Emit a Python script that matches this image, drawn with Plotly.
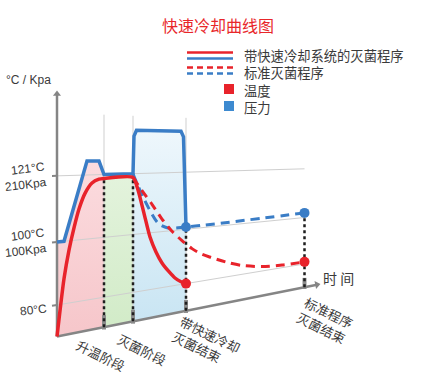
import math
import plotly.graph_objects as go

# ---------------- data (schematic chart units) ----------------
title_text = "快速冷却曲线图"
axis_unit_label = "°C / Kpa"
time_label = "时 间"

y_tick_vals = [80, 100, 121]
y_tick_text = ["80°C", "100°C<br>100Kpa", "121°C<br>210Kpa"]

phase_times = [9.4, 15.2, 25.8, 49.5]
phase_labels = ["升温阶段", "灭菌阶段", "带快速冷却<br>灭菌结束", "标准程序<br>灭菌结束"]

base_value = 70
grid_top = 141
axis_top = 147
axis_end = 52

# temperature, process with fast cooling
temp_fast_t = [0, 0.6, 1.4, 2.4, 3.4, 4.4, 5.6, 7.0, 8.4, 9.4, 15.2, 16.2, 17.4, 18.6, 19.8, 21.0, 22.4, 23.6, 24.8, 25.8]
temp_fast_v = [70, 78, 88, 97, 104, 110, 115, 118.3, 119.5, 119.7, 119.7, 115.3, 107, 98.5, 93, 88.8, 85.3, 82.7, 81, 80]

# pressure, process with fast cooling
pres_fast_t = [0, 1.4, 6.0, 8.4, 9.4, 15.2, 15.4, 15.9, 24.8, 25.3, 25.8]
pres_fast_v = [100, 100, 125.6, 125.5, 121, 121, 134, 136, 136, 134, 100.8]

# temperature, standard process
temp_std_t = [15.2, 17, 19, 21, 23, 25, 27, 29, 31, 34, 37, 41, 45, 49.5]
temp_std_v = [119.7, 115, 110, 104.5, 99.8, 96, 92.6, 90, 88.2, 85.6, 83.5, 81.8, 81.1, 80.9]

# pressure, standard process
pres_std_t = [15.2, 17.2, 20.2, 22.2, 25.8, 49.5]
pres_std_v = [121, 112.8, 103.2, 101.1, 100.8, 102]

legend_labels = ["带快速冷却系统的灭菌程序", "标准灭菌程序", "温度", "压力"]

# ---------------- styling / perspective ----------------
RED = "#e8232b"
BLUE = "#3a7dc6"
GRID = "#cfcfcf"
AXIS = "#858585"
TXT = "#3a3a3a"
FONT = "Arial, Liberation Sans, Noto Sans CJK SC"
CJK = "Noto Sans CJK SC, Noto Sans"

VP_T = 188.0   # vanishing point (time units)
VP_V = 129.5   # vanishing point (value units)


def proj(t, v):
    return v + (VP_V - v) * t / VP_T


def projl(ts, vs):
    return list(ts), [proj(t, v) for t, v in zip(ts, vs)]


W, H = 429, 384
X_RANGE = [-11.4, 74.4]
Y_RANGE = [100 - 142 / 3.15, 100 + 242 / 3.15]

fig = go.Figure()


def add_line(ts, vs, color, width, dash="solid", shape="linear", smoothing=1.0):
    x, y = projl(ts, vs)
    fig.add_trace(go.Scatter(x=x, y=y, mode="lines", hoverinfo="skip",
                             line=dict(color=color, width=width, dash=dash,
                                       shape=shape, smoothing=smoothing),
                             showlegend=False))


def add_fill(ts, vs, c0, c1):
    x, y = projl(ts, vs)
    fig.add_trace(go.Scatter(x=x, y=y, mode="lines", fill="toself", hoverinfo="skip",
                             line=dict(width=0, color="rgba(0,0,0,0)"),
                             fillgradient=dict(type="vertical",
                                               colorscale=[[0, c0], [1, c1]]),
                             showlegend=False))


# --- phase fills ---
i_end = pres_fast_t.index(9.4)
pink_t = pres_fast_t[:i_end + 1] + [9.4, 0]
pink_v = pres_fast_v[:i_end + 1] + [base_value, base_value]
add_fill(pink_t, pink_v, "#f6c6ca", "#fbdcdf")

green_t = [9.4, 15.2, 15.2, 9.4]
green_v = [119.7, 119.7, base_value, base_value]
add_fill(green_t, green_v, "#d2ebc8", "#e3f3dc")

i_s = pres_fast_t.index(15.2)
blue_t = pres_fast_t[i_s:] + [25.8, 15.2]
blue_v = pres_fast_v[i_s:] + [base_value, base_value]
add_fill(blue_t, blue_v, "#c9e5f3", "#eef7fc")

# --- grid lines ---
for v in y_tick_vals:
    add_line([0, phase_times[-1]], [v, v], GRID, 1)
for t in phase_times[:3]:
    add_line([t, t], [base_value, grid_top], GRID, 1)

# --- axes ---
add_line([0, 0], [base_value, axis_top], AXIS, 2.5)
add_line([0, axis_end], [base_value, base_value], AXIS, 2.5)
dy_px = (proj(1, base_value) - base_value) * 3.15
ang = -math.degrees(math.atan2(dy_px, 5))
fig.add_trace(go.Scatter(x=[0], y=[axis_top], mode="markers", hoverinfo="skip",
                         marker=dict(symbol="triangle-up", size=7, color=AXIS),
                         showlegend=False))
fig.add_trace(go.Scatter(x=[axis_end], y=[proj(axis_end, base_value)], mode="markers",
                         hoverinfo="skip",
                         marker=dict(symbol="triangle-right", size=7, color=AXIS, angle=ang),
                         showlegend=False))
# y ticks
for v in y_tick_vals:
    add_line([-1.0, 0], [v, v], AXIS, 2)
# x ticks (thick marks)
for t in phase_times:
    add_line([t, t], [base_value - 0.8, base_value + 4], "#8c8c8c", 4)

# --- black dotted phase boundaries ---
dot_tops = [119.7, 119.7, pres_std_v[-2], pres_std_v[-1]]
for t, top in zip(phase_times, dot_tops):
    add_line([t, t], [base_value, top], "#1e1e1e", 2.5, dash="dot")

# --- standard process (dashed) ---
add_line(pres_std_t, pres_std_v, BLUE, 3, dash="9px,6px", shape="spline", smoothing=0.8)
add_line(temp_std_t, temp_std_v, RED, 3, dash="9px,6px", shape="spline", smoothing=0.8)

# --- fast cooling process (solid) ---
add_line(pres_fast_t, pres_fast_v, BLUE, 3.5)
add_line(temp_fast_t, temp_fast_v, RED, 3.5, shape="spline", smoothing=0.6)

# --- end markers ---
mx, my = projl([temp_fast_t[-1], temp_std_t[-1]], [temp_fast_v[-1], temp_std_v[-1]])
fig.add_trace(go.Scatter(x=mx, y=my, mode="markers", hoverinfo="skip",
                         marker=dict(size=10, color=RED), showlegend=False))
mx, my = projl([pres_fast_t[-1], pres_std_t[-1]], [pres_fast_v[-1], pres_std_v[-1]])
fig.add_trace(go.Scatter(x=mx, y=my, mode="markers", hoverinfo="skip",
                         marker=dict(size=10, color=BLUE), showlegend=False))

annotations = []
# y tick labels
for v, txt in zip(y_tick_vals, y_tick_text):
    annotations.append(dict(x=0, y=v, xref="x", yref="y", text=txt, showarrow=False,
                            xanchor="right", yanchor="middle", align="right",
                            xshift=-7, yshift=-5 if v == 80 else -1, textangle=-7,
                            font=dict(family=FONT, size=12, color=TXT)))
# phase labels
shifts = [(-3, -28), (9, -28), (20, -31), (20, -33)]
for t, txt, (dx, dy) in zip(phase_times, phase_labels, shifts):
    annotations.append(dict(x=t, y=proj(t, base_value), xref="x", yref="y", text=txt,
                            showarrow=False, xanchor="center", yanchor="middle",
                            align="left", xshift=dx, yshift=dy, textangle=26,
                            font=dict(family=CJK, size=13, color=TXT)))
# time label
annotations.append(dict(x=axis_end, y=proj(axis_end, base_value), xref="x", yref="y",
                        text=time_label, showarrow=False, xanchor="left", yanchor="middle",
                        xshift=4, yshift=7, font=dict(family=CJK, size=14, color=TXT)))


def px(x):
    return x / W


def py(y):
    return 1 - y / H


# title and unit label
annotations.append(dict(x=px(218), y=py(25), xref="paper", yref="paper", text=title_text,
                        showarrow=False, xanchor="center", yanchor="middle",
                        font=dict(family=CJK, size=16, color="#e8262a")))
annotations.append(dict(x=px(4), y=py(80), xref="paper", yref="paper", text=axis_unit_label,
                        showarrow=False, xanchor="left", yanchor="middle",
                        font=dict(family=FONT, size=12, color=TXT)))

# custom legend (symbols as shapes, labels as one multi-line text block)
shapes = []
shapes.append(dict(type="line", xref="paper", yref="paper", x0=px(187), x1=px(233),
                   y0=py(52.5), y1=py(52.5), line=dict(color=RED, width=2.5)))
shapes.append(dict(type="line", xref="paper", yref="paper", x0=px(187), x1=px(233),
                   y0=py(58.5), y1=py(58.5), line=dict(color=BLUE, width=2.5)))
shapes.append(dict(type="line", xref="paper", yref="paper", x0=px(187), x1=px(233),
                   y0=py(67.5), y1=py(67.5), line=dict(color=RED, width=2.5, dash="6px,4px")))
shapes.append(dict(type="line", xref="paper", yref="paper", x0=px(187), x1=px(233),
                   y0=py(73.5), y1=py(73.5), line=dict(color=BLUE, width=2.5, dash="6px,4px")))
shapes.append(dict(type="rect", xref="paper", yref="paper", x0=px(224), x1=px(234),
                   y0=py(84), y1=py(94), line=dict(width=0), fillcolor=RED))
shapes.append(dict(type="rect", xref="paper", yref="paper", x0=px(224), x1=px(234),
                   y0=py(101), y1=py(111), line=dict(width=0), fillcolor="#3d8ad0"))
annotations.append(dict(x=px(242), y=py(81), xref="paper", yref="paper",
                        text="<br>".join(legend_labels),
                        showarrow=False, xanchor="left", yanchor="middle", align="left",
                        font=dict(family=CJK, size=13.3, color=TXT)))

fig.update_layout(
    width=W, height=H,
    margin=dict(l=0, r=0, t=0, b=0),
    paper_bgcolor="white", plot_bgcolor="white",
    xaxis=dict(range=X_RANGE, visible=False, fixedrange=True),
    yaxis=dict(range=Y_RANGE, visible=False, fixedrange=True),
    annotations=annotations, shapes=shapes,
    showlegend=False,
)

fig.write_html("out.html", config={"displayModeBar": False},
               post_script="document.body.style.margin='0px';")
